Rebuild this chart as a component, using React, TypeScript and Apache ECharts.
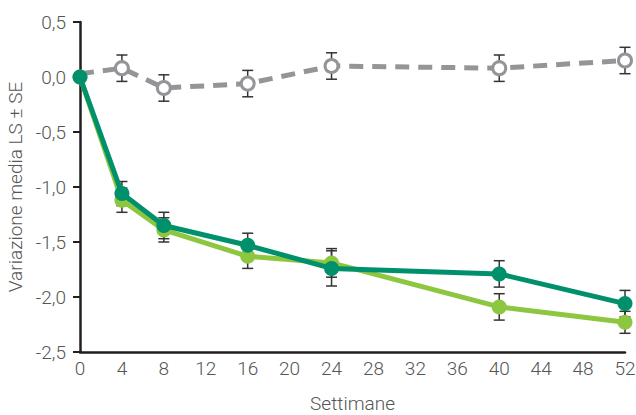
import React, { useEffect, useRef } from "react";
import * as echarts from "echarts";

const weeks = [0, 4, 8, 16, 24, 40, 52];
const placebo = [0.03, 0.08, -0.1, -0.06, 0.1, 0.08, 0.15];
const placeboSE = [0, 0.12, 0.12, 0.12, 0.12, 0.12, 0.12];
const darkGreen = [0.0, -1.06, -1.35, -1.53, -1.74, -1.79, -2.06];
const darkSE = [0, 0.11, 0.12, 0.11, 0.16, 0.12, 0.12];
const lightGreen = [0.0, -1.12, -1.39, -1.63, -1.69, -2.09, -2.23];
const lightSE = [0, 0.11, 0.11, 0.11, 0.13, 0.12, 0.1];
const xTicks = { min: 0, max: 52, interval: 4 };
const yTicks = { min: -2.5, max: 0.5, interval: 0.5 };

const FONT = "Roboto, 'Noto Sans', sans-serif";
const TEXT = "#555555";

function errData(vals: number[], se: number[]) {
  return weeks
    .map((w, i) => [w, vals[i] - se[i], vals[i] + se[i]])
    .filter((_, i) => se[i] > 0);
}

function errSeries(vals: number[], se: number[]) {
  return {
    type: "custom",
    z: 1,
    clip: false,
    data: errData(vals, se),
    renderItem: (params: any, api: any) => {
      const x = api.value(0);
      const lo = api.coord([x, api.value(1)]);
      const hi = api.coord([x, api.value(2)]);
      const hw = 5.5;
      const style = { stroke: "#333333", lineWidth: 1.5 };
      return {
        type: "group",
        children: [
          { type: "line", shape: { x1: lo[0], y1: lo[1], x2: hi[0], y2: hi[1] }, style },
          { type: "line", shape: { x1: lo[0] - hw, y1: lo[1], x2: lo[0] + hw, y2: lo[1] }, style },
          { type: "line", shape: { x1: hi[0] - hw, y1: hi[1], x2: hi[0] + hw, y2: hi[1] }, style },
        ],
      };
    },
  };
}

export default function App() {
  const ref = useRef<HTMLDivElement>(null);
  useEffect(() => {
    document.body.style.margin = "0";
    const chart = echarts.init(ref.current!, undefined, { renderer: "svg" });
    const labelStyle = { fontFamily: FONT, fontSize: 19, fontWeight: 300, color: TEXT };
    chart.setOption({
      animation: false,
      grid: { left: 80, right: 11, top: 22, bottom: 63, outerBoundsMode: "none", containLabel: false },
      xAxis: {
        type: "value",
        min: xTicks.min,
        max: xTicks.max,
        interval: xTicks.interval,
        name: "Settimane",
        nameLocation: "middle",
        nameGap: 42,
        nameTextStyle: labelStyle,
        axisLine: { onZero: false, lineStyle: { color: "#231f20", width: 2.5 } },
        axisTick: { show: false },
        axisLabel: { ...labelStyle, margin: 7 },
        splitLine: { show: false },
      },
      yAxis: {
        type: "value",
        min: yTicks.min,
        max: yTicks.max,
        interval: yTicks.interval,
        name: "Variazione media LS ± SE",
        nameLocation: "middle",
        nameGap: 55,
        nameTextStyle: labelStyle,
        axisLine: { show: true, onZero: false, lineStyle: { color: "#231f20", width: 2.5 } },
        axisTick: { show: true, length: 7, lineStyle: { color: "#231f20", width: 2 } },
        axisLabel: {
          ...labelStyle,
          margin: 14,
          formatter: (v: number) => v.toFixed(1).replace(".", ","),
        },
        splitLine: { show: false },
      },
      series: [
        errSeries(placebo, placeboSE),
        errSeries(lightGreen, lightSE),
        errSeries(darkGreen, darkSE),
        {
          type: "line",
          z: 2,
          clip: false,
          data: weeks.map((w, i) =>
            i === 0 ? { value: [w, placebo[i]], symbol: "none" } : [w, placebo[i]]
          ),
          symbol: "circle",
          symbolSize: 13,
          lineStyle: { color: "#939598", width: 5, type: [14, 9] },
          itemStyle: { color: "#ffffff", borderColor: "#939598", borderWidth: 3 },
        },
        {
          type: "line",
          z: 3,
          clip: false,
          data: weeks.map((w, i) => [w, lightGreen[i]]),
          symbol: "circle",
          symbolSize: 15,
          lineStyle: { color: "#8dc63f", width: 5 },
          itemStyle: { color: "#8dc63f" },
        },
        {
          type: "line",
          z: 4,
          clip: false,
          data: weeks.map((w, i) => [w, darkGreen[i]]),
          symbol: "circle",
          symbolSize: 15,
          lineStyle: { color: "#00916c", width: 5 },
          itemStyle: { color: "#00916c" },
        },
      ],
    });
    return () => chart.dispose();
  }, []);
  return <div ref={ref} style={{ width: 636, height: 415 }} />;
}
